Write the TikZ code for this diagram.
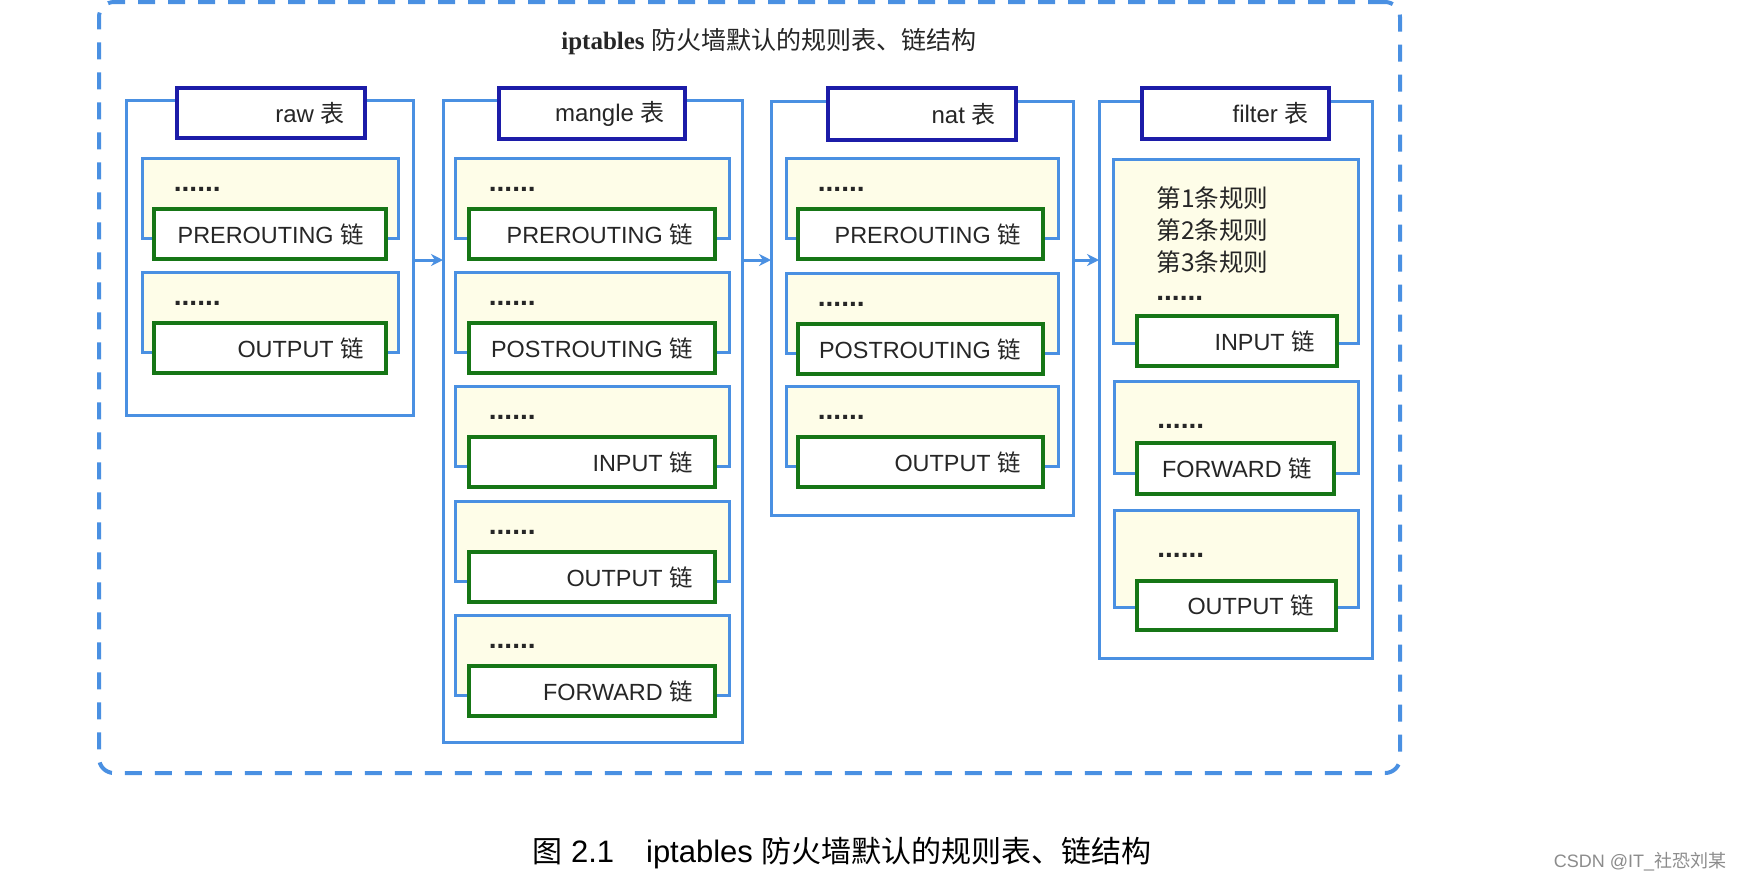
\documentclass[tikz,border=0pt]{standalone}
\usepackage{fontspec}
\setmainfont{Liberation Sans}
\newfontfamily\cjk{Noto Sans CJK SC}
\newfontfamily\tnr{Liberation Serif}
\usetikzlibrary{arrows.meta}
\definecolor{lblue}{RGB}{74,144,226}
\definecolor{dblue}{RGB}{28,28,168}
\definecolor{dgreen}{RGB}{22,118,22}
\definecolor{cream}{RGB}{254,253,232}
\tikzset{
  framebox/.style={draw=lblue, line width=2pt, dash pattern=on 8.5pt off 6.5pt, rounded corners=7.5pt, inner sep=0pt, outer sep=0pt},
  tablebox/.style={draw=lblue, line width=1.5pt, fill=white, inner sep=0pt, outer sep=0pt},
  titlebox/.style={draw=dblue, line width=2pt, fill=white, inner sep=0pt, outer sep=0pt},
  chainbox/.style={draw=lblue, line width=1.5pt, fill=cream, inner sep=0pt, outer sep=0pt},
  greenbox/.style={draw=dgreen, line width=2pt, fill=white, inner sep=0pt, outer sep=0pt},
  lbl/.style={inner sep=0pt, text=black!85, font=\fontsize{11.7pt}{14pt}\selectfont},
  ttl/.style={inner sep=0pt, text=black!85, font=\fontsize{12pt}{14pt}\selectfont},
  rule/.style={inner sep=0pt, text=black!85, font=\cjk\fontsize{12.3pt}{14pt}\selectfont},
  dotstxt/.style={inner sep=0pt, text=black!85, font=\fontsize{14pt}{14pt}\selectfont\bfseries},
  flow/.style={draw=lblue, line width=1.5pt, -{Stealth[length=6pt,width=6pt]}},
}
\newcommand\boxat[6]{\node[#1, anchor=north west, minimum width={(#5-#3)*0.5pt}, minimum height={(#6-#4)*0.5pt}] (#2) at (#3,#4) {};}
\newcommand\stdchain[7]{%
  \pgfmathsetmacro\cB{#6+80}\pgfmathsetmacro\gT{#6+51}\pgfmathsetmacro\gB{#6+101}\pgfmathsetmacro\dY{#6+33}%
  \boxat{chainbox}{#1}{#2}{#6}{#3}{\cB}
  \boxat{greenbox}{#1g}{#4}{\gT}{#5}{\gB}
  \node[dotstxt, anchor=base west] (#1d) at (#4+19.5,\dY) {......};
  \node[lbl, anchor=east, xshift=-11pt] (#1t) at (#1g.east) {#7};
}
\newcommand\ttlbox[6]{%
  \boxat{titlebox}{#1}{#2}{#3}{#4}{#5}
  \node[ttl, anchor=east, xshift=-10pt] (#1t) at (#1.east) {#6};
}
\begin{document}
\begin{tikzpicture}[x=0.5pt,y=-0.5pt]
\useasboundingbox (0,0) rectangle (1743,880);
\fill[white] (0,0) rectangle (1743,880);
% frame
\boxat{framebox}{frame}{99}{2}{1400}{773}
\node[inner sep=0pt, text=black!85, font=\fontsize{12.5pt}{14pt}\selectfont] (title) at (769,42) {{\tnr\bfseries iptables} {\cjk 防火墙默认的规则表、链结构}};
% tables
\boxat{tablebox}{raw}{126}{100}{413}{415}
\boxat{tablebox}{mangle}{443}{100}{742}{742}
\boxat{tablebox}{nat}{771}{101}{1073}{515}
\boxat{tablebox}{filter}{1099}{101}{1372}{658}
\ttlbox{rawT}{177}{88}{365}{138}{raw {\cjk 表}}
\ttlbox{mangleT}{499}{88}{685}{139}{mangle {\cjk 表}}
\ttlbox{natT}{828}{88}{1016}{140}{nat {\cjk 表}}
\ttlbox{filterT}{1142}{88}{1329}{139}{filter {\cjk 表}}
% raw chains
\stdchain{r1}{142}{398}{154}{386}{158}{PREROUTING {\cjk 链}}
\stdchain{r2}{142}{398}{154}{386}{272}{OUTPUT {\cjk 链}}
% mangle chains
\stdchain{m1}{455}{729}{469}{715}{158}{PREROUTING {\cjk 链}}
\stdchain{m2}{455}{729}{469}{715}{272}{POSTROUTING {\cjk 链}}
\stdchain{m3}{455}{729}{469}{715}{386}{INPUT {\cjk 链}}
\stdchain{m4}{455}{729}{469}{715}{501}{OUTPUT {\cjk 链}}
\stdchain{m5}{455}{729}{469}{715}{615}{FORWARD {\cjk 链}}
% nat chains
\stdchain{n1}{786}{1058}{798}{1043}{158}{PREROUTING {\cjk 链}}
\stdchain{n2}{786}{1058}{798}{1043}{273}{POSTROUTING {\cjk 链}}
\stdchain{n3}{786}{1058}{798}{1043}{386}{OUTPUT {\cjk 链}}
% filter chains
\boxat{chainbox}{f1}{1113}{159}{1358}{343}
\boxat{greenbox}{f1g}{1137}{316}{1337}{366}
\node[rule, anchor=west] (f1r1) at (1156,198) {第1条规则};
\node[rule, anchor=west] (f1r2) at (1156,230) {第2条规则};
\node[rule, anchor=west] (f1r3) at (1156,262) {第3条规则};
\node[dotstxt, anchor=base west] (f1d) at (1156,300) {......};
\node[lbl, anchor=east, xshift=-11pt] (f1t) at (f1g.east) {INPUT {\cjk 链}};
\boxat{chainbox}{f2}{1114}{381}{1358}{473}
\boxat{greenbox}{f2g}{1137}{443}{1334}{494}
\node[dotstxt, anchor=base west] (f2d) at (1157,428) {......};
\node[lbl, anchor=east, xshift=-11pt] (f2t) at (f2g.east) {FORWARD {\cjk 链}};
\boxat{chainbox}{f3}{1114}{510}{1358}{607}
\boxat{greenbox}{f3g}{1137}{581}{1336}{630}
\node[dotstxt, anchor=base west] (f3d) at (1157,557) {......};
\node[lbl, anchor=east, xshift=-11pt] (f3t) at (f3g.east) {OUTPUT {\cjk 链}};
% arrows
\coordinate (ay) at (0,260);
\draw[flow] (raw.east |- ay) -- (mangle.west |- ay);
\draw[flow] (mangle.east |- ay) -- (nat.west |- ay);
\draw[flow] (nat.east |- ay) -- (filter.west |- ay);
% caption
\node[inner sep=0pt, font=\fontsize{15.5pt}{18pt}\selectfont] (cap) at (842,853) {{\cjk\fontsize{15pt}{18pt}\selectfont 图} 2.1\hspace{16pt}iptables {\cjk\fontsize{15pt}{18pt}\selectfont 防火墙默认的规则表、链结构}};
\node[inner sep=0pt, text=black!45, font=\fontsize{9pt}{11pt}\selectfont] (wm) at (1640,862) {CSDN @IT\_{\cjk 社恐刘某}};
\end{tikzpicture}
\end{document}
